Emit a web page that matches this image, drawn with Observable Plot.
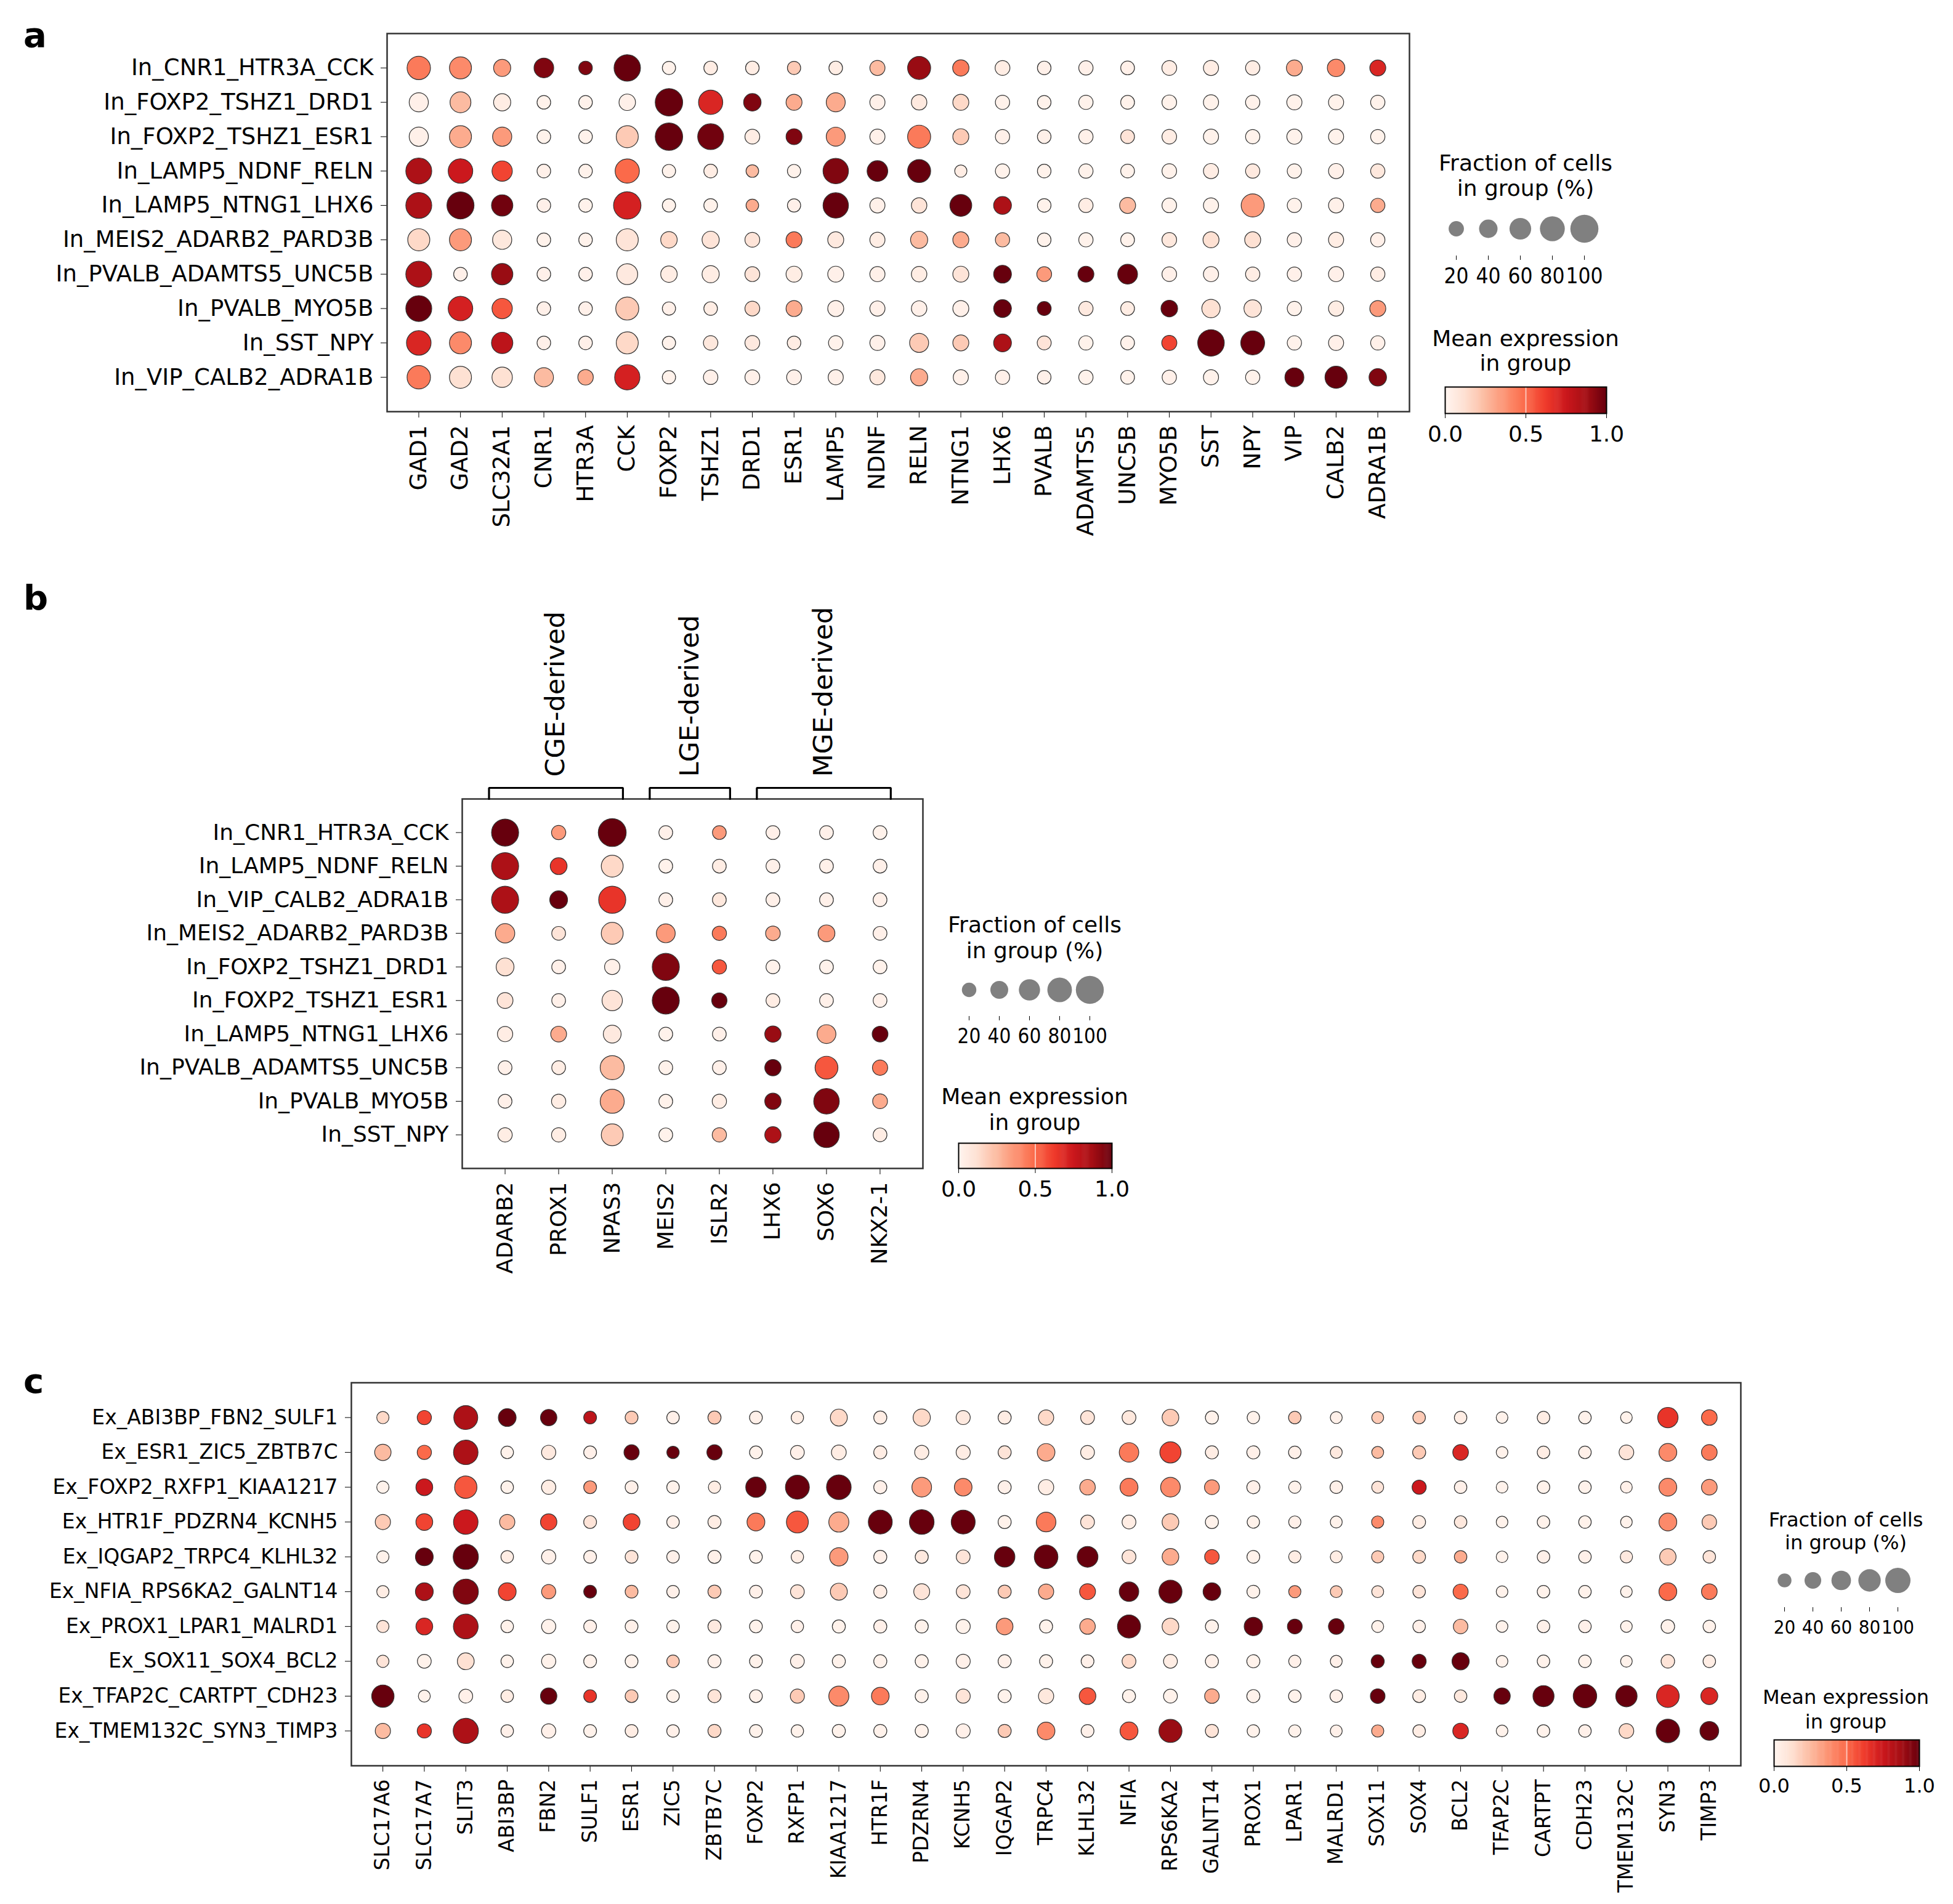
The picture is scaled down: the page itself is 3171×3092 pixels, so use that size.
<!DOCTYPE html>
<html>
<head>
<meta charset="utf-8">
<script src="https://cdn.jsdelivr.net/npm/d3@7"></script>
<script src="https://cdn.jsdelivr.net/npm/@observablehq/plot@0.6"></script>
<style>
  body { margin: 0; background: #fff; }
  #fig { position: relative; width: 3171px; height: 3092px; background: #fff; overflow: hidden;
         font-family: "DejaVu Sans", sans-serif; color: #000; }
  .abs { position: absolute; }
  .letter { font-weight: bold; font-size: 56px; line-height: 56px; }
  .ltitle { text-align: center; white-space: nowrap; }
  .abs svg { display: block; }
</style>
</head>
<body>
<div id="fig"></div>
<script>
// ---------- Panel a: inhibitory subtypes x marker genes ----------
const genesA = ["GAD1","GAD2","SLC32A1","CNR1","HTR3A","CCK","FOXP2","TSHZ1","DRD1","ESR1","LAMP5","NDNF",
  "RELN","NTNG1","LHX6","PVALB","ADAMTS5","UNC5B","MYO5B","SST","NPY","VIP","CALB2","ADRA1B"];
const groupsA = ["In_CNR1_HTR3A_CCK","In_FOXP2_TSHZ1_DRD1","In_FOXP2_TSHZ1_ESR1","In_LAMP5_NDNF_RELN",
  "In_LAMP5_NTNG1_LHX6","In_MEIS2_ADARB2_PARD3B","In_PVALB_ADAMTS5_UNC5B","In_PVALB_MYO5B","In_SST_NPY",
  "In_VIP_CALB2_ADRA1B"];
// fraction of cells expressing (%)
const fracA = [
  [73,65,36,51,15,91,13,15,15,13,15,24,71,31,22,15,19,16,22,24,19,29,38,29],
  [48,58,36,15,15,32,97,78,38,29,47,24,26,29,19,15,19,16,21,24,19,24,24,19],
  [48,65,48,15,15,65,97,88,22,29,47,24,71,29,19,15,19,16,21,24,19,24,24,19],
  [88,80,55,15,15,78,13,15, 9,13,85,57,71, 7,19,15,19,16,21,24,19,19,24,19],
  [88,95,61,15,15,97,13,15, 9,13,85,24,26,64,40,15,19,29,21,24,71,19,24,19],
  [65,65,48,15,15,65,32,36,22,29,29,24,36,29,19,15,19,16,21,29,29,19,24,19],
  [88,15,61,15,15,58,32,36,22,29,29,24,26,29,40,22,29,52,21,24,19,19,24,19],
  [88,80,55,15,15,71,13,15,22,29,29,24,26,29,40,17,19,16,33,43,38,19,24,29],
  [80,65,61,15,15,65,13,20,22,15,20,24,47,29,40,17,19,16,24,92,76,19,24,19],
  [73,65,55,48,26,84,13,20,22,22,24,24,36,24,19,15,19,16,19,24,19,47,66,38]
];
// scaled mean expression (0-1)
const exprA = [
  [.45,.40,.35,.95,.95,1.0,.02,.05,.05,.20,.05,.25,.90,.45,.05,.03,.03,.03,.05,.05,.05,.30,.40,.70],
  [.03,.25,.05,.02,.02,.03,1.0,.70,.95,.30,.30,.03,.07,.15,.02,.02,.02,.02,.02,.02,.02,.02,.02,.02],
  [.03,.30,.35,.02,.02,.20,1.0,.98,.05,.95,.35,.03,.45,.20,.03,.03,.03,.10,.05,.02,.02,.02,.02,.02],
  [.85,.75,.60,.03,.02,.50,.02,.05,.25,.02,.95,1.0,1.0,.05,.02,.02,.02,.02,.02,.05,.07,.02,.03,.08],
  [.85,1.0,.98,.03,.02,.72,.02,.02,.30,.03,1.0,.03,.10,1.0,.85,.02,.05,.25,.02,.02,.35,.02,.03,.30],
  [.15,.35,.08,.02,.02,.10,.15,.10,.10,.45,.07,.05,.25,.30,.25,.02,.02,.02,.08,.12,.12,.03,.05,.03],
  [.85,.03,.90,.03,.03,.07,.05,.05,.10,.05,.03,.03,.05,.10,1.0,.35,1.0,1.0,.03,.03,.05,.03,.03,.05],
  [1.0,.72,.55,.03,.03,.20,.03,.05,.15,.30,.03,.03,.03,.03,1.0,1.0,.07,.05,1.0,.12,.10,.02,.05,.35],
  [.70,.40,.80,.03,.03,.15,.02,.08,.07,.05,.02,.03,.20,.20,.85,.10,.02,.02,.60,1.0,1.0,.02,.03,.03],
  [.45,.12,.12,.25,.30,.72,.02,.03,.03,.03,.03,.08,.30,.03,.03,.03,.02,.02,.03,.02,.02,1.0,1.0,.95]
];

// ---------- Panel b: developmental origin markers ----------
const genesB = ["ADARB2","PROX1","NPAS3","MEIS2","ISLR2","LHX6","SOX6","NKX2-1"];
const groupsB = ["In_CNR1_HTR3A_CCK","In_LAMP5_NDNF_RELN","In_VIP_CALB2_ADRA1B","In_MEIS2_ADARB2_PARD3B",
  "In_FOXP2_TSHZ1_DRD1","In_FOXP2_TSHZ1_ESR1","In_LAMP5_NTNG1_LHX6","In_PVALB_ADAMTS5_UNC5B","In_PVALB_MYO5B",
  "In_SST_NPY"];
const originsB = [
  {name: "CGE-derived", first: "ADARB2", last: "NPAS3"},
  {name: "LGE-derived", first: "MEIS2", last: "ISLR2"},
  {name: "MGE-derived", first: "LHX6", last: "NKX2-1"}
];
const fracB = [
  [95,19,100,16,16,16,16,16],
  [95,34,64,16,16,16,16,16],
  [95,40,95,16,16,16,16,16],
  [49,16,64,46,19,21,34,16],
  [40,16,25,95,19,16,16,16],
  [28,16,55,95,25,16,16,16],
  [25,28,40,16,16,31,46,28],
  [16,16,77,16,16,31,70,25],
  [16,19,77,16,19,31,86,22],
  [19,19,64,16,19,31,86,16]
];
const exprB = [
  [1.0,.35,1.0,.03,.35,.03,.03,.02],
  [.85,.65,.15,.02,.05,.03,.03,.03],
  [.85,1.0,.65,.03,.08,.03,.03,.03],
  [.30,.10,.20,.35,.45,.30,.35,.03],
  [.12,.03,.03,.95,.55,.02,.02,.02],
  [.10,.03,.10,1.0,1.0,.05,.03,.03],
  [.05,.30,.07,.02,.03,.90,.30,1.0],
  [.03,.05,.25,.02,.03,1.0,.55,.45],
  [.03,.05,.30,.02,.05,.95,.95,.30],
  [.05,.05,.20,.02,.25,.85,1.0,.05]
];

// ---------- Panel c: excitatory subtypes x marker genes ----------
const genesC = ["SLC17A6","SLC17A7","SLIT3","ABI3BP","FBN2","SULF1","ESR1","ZIC5","ZBTB7C","FOXP2","RXFP1",
  "KIAA1217","HTR1F","PDZRN4","KCNH5","IQGAP2","TRPC4","KLHL32","NFIA","RPS6KA2","GALNT14","PROX1","LPAR1",
  "MALRD1","SOX11","SOX4","BCL2","TFAP2C","CARTPT","CDH23","TMEM132C","SYN3","TIMP3"];
const groupsC = ["Ex_ABI3BP_FBN2_SULF1","Ex_ESR1_ZIC5_ZBTB7C","Ex_FOXP2_RXFP1_KIAA1217","Ex_HTR1F_PDZRN4_KCNH5",
  "Ex_IQGAP2_TRPC4_KLHL32","Ex_NFIA_RPS6KA2_GALNT14","Ex_PROX1_LPAR1_MALRD1","Ex_SOX11_SOX4_BCL2",
  "Ex_TFAP2C_CARTPT_CDH23","Ex_TMEM132C_SYN3_TIMP3"];
const fracC = [
  [ 9,23, 91,48,38,13,13,11,15,13,10,42,15,44,22,15,30,20,20,40,15,10,11, 7, 7,11,11, 5,11,11, 5,66,33],
  [38,23, 95,11,23,13,30,10,30,13,20,27,15,22,22,15,47,20,60,72,15,15,11, 7, 7,15,33, 5,11,11,26,48,33],
  [ 9,41, 80,11,23,13,13,11, 9,66,91,96,15,61,47,15,30,32,49,61,27,15, 9,11, 7,22,11, 5,11,11, 5,48,33],
  [30,41, 95,30,38,13,41,11,15,48,77,64,91,96,91,15,61,20,20,40,15,10, 9, 7, 9,13,11, 5,11,11, 5,48,25],
  [ 9,48,100,11,23,13,13,11,15,13,10,52,15,15,20,67,89,69,20,40,25,13, 9, 7, 9,13,11, 5,11,11, 9,38,11],
  [ 9,48,100,48,23,13,13,11,15,13,20,42,15,35,20,15,30,35,60,85,47,13, 9, 7, 7,11,29, 5,11,11, 5,48,33],
  [ 9,41, 97,11,23,13,13,11,15,13,10,15,15,15,22,40,15,32,85,40,15,52,27,33, 7,11,25, 5,11,11, 5,18,11],
  [ 9,20, 41,11,23,13,13,11,15,13,20,15,15,15,22,15,15,13,20,20,15,15, 9, 7,15,22,44, 5,11,11, 5,18,11],
  [80, 7, 20,11,38,13,13,11,15,13,22,64,47,15,22,15,30,40,15,20,25,15,11,11,26,13,11,38,71,88,73,82,42],
  [30,23,100,11,23,13,13,11,15,13,10,15,15,15,22,15,47,13,49,85,15,10, 9, 7, 9,11,33, 5,11,11,26,88,55]
];
const exprC = [
  [.15,.60,.85,1.0,1.0,.80,.20,.03,.20,.03,.05,.15,.05,.15,.07,.05,.15,.10,.08,.20,.02,.02,.20,.03,.20,.20,.05,.02,.05,.02,.02,.65,.50],
  [.25,.50,.85,.02,.07,.03,1.0,1.0,1.0,.02,.03,.05,.05,.05,.05,.10,.30,.05,.45,.60,.05,.03,.03,.07,.25,.20,.70,.02,.05,.03,.10,.40,.45],
  [.02,.75,.55,.02,.05,.35,.03,.02,.05,1.0,1.0,1.0,.03,.35,.40,.03,.05,.30,.45,.40,.35,.03,.02,.03,.10,.75,.03,.02,.02,.02,.03,.40,.35],
  [.20,.60,.75,.25,.60,.10,.60,.03,.05,.45,.55,.30,1.0,1.0,1.0,.02,.45,.10,.05,.20,.02,.02,.03,.02,.40,.05,.08,.02,.02,.02,.02,.40,.20],
  [.02,1.0,1.0,.05,.03,.03,.10,.03,.03,.02,.05,.35,.03,.07,.10,1.0,1.0,1.0,.10,.30,.55,.02,.05,.05,.20,.15,.30,.02,.03,.03,.07,.20,.10],
  [.05,.85,.95,.60,.35,1.0,.25,.03,.20,.03,.10,.20,.05,.10,.10,.20,.30,.55,1.0,1.0,1.0,.02,.35,.20,.10,.10,.50,.02,.02,.02,.02,.50,.45],
  [.10,.70,.85,.02,.02,.03,.03,.02,.07,.02,.03,.02,.03,.02,.02,.35,.02,.30,1.0,.15,.02,1.0,1.0,1.0,.02,.03,.25,.02,.03,.03,.02,.02,.02],
  [.10,.02,.12,.02,.02,.02,.02,.20,.03,.02,.03,.02,.02,.02,.03,.03,.02,.03,.15,.05,.03,.02,.03,.03,1.0,1.0,1.0,.02,.02,.02,.02,.10,.05],
  [1.0,.02,.03,.05,1.0,.65,.20,.02,.10,.03,.20,.40,.45,.02,.10,.02,.08,.55,.02,.02,.30,.02,.02,.03,1.0,.05,.08,1.0,1.0,1.0,1.0,.70,.70],
  [.25,.65,.85,.03,.03,.02,.05,.03,.15,.02,.02,.02,.02,.02,.03,.20,.40,.03,.55,.90,.10,.02,.02,.03,.30,.05,.70,.02,.02,.03,.15,1.0,1.0]
];

// legend tick values
const fracTicks = [20, 40, 60, 80, 100];
const exprTicks = [0, 0.5, 1];

// ---------- shared styling ----------
const redsStops = ["#fff5f0","#fee0d2","#fcbba1","#fc9272","#fb6a4a","#ef3b2c","#cb181d","#a50f15","#67000d"];
const colorScale = {type: "linear", domain: [0, 1], interpolate: d3.piecewise(d3.interpolateRgb, redsStops)};
const fig = document.getElementById("fig");

function place(node, left, top) {
  const wrap = document.createElement("div");
  wrap.className = "abs";
  wrap.style.left = left + "px";
  wrap.style.top = top + "px";
  wrap.appendChild(node);
  fig.appendChild(wrap);
  return wrap;
}

function htmlText(html, left, top, cls, css) {
  const d = document.createElement("div");
  d.className = "abs " + cls;
  d.innerHTML = html;
  d.style.left = left + "px";
  d.style.top = top + "px";
  Object.assign(d.style, css || {});
  fig.appendChild(d);
}

function baseStyle(fs, family = "DejaVu Sans") {
  return {fontFamily: family, fontSize: fs + "px", background: "transparent", color: "#000", overflow: "visible"};
}

// dot plot: one row per cell group, one column per gene
function dotPanel({rows, genes, frac, expr, width, height, margins, pad, fontSize, rRange}) {
  const cells = [];
  rows.forEach((_, i) => genes.forEach((_, j) => cells.push({row: i, gene: j, frac: frac[i][j], expr: expr[i][j]})));
  return Plot.plot({
    width, height, ...margins,
    style: baseStyle(fontSize),
    x: {domain: [-pad, genes.length - 1 + pad], ticks: d3.range(genes.length), tickFormat: j => genes[j],
        tickRotate: -90, tickSize: 10, tickPadding: 12, label: null},
    y: {domain: [-1, rows.length], reverse: true, ticks: d3.range(rows.length), tickFormat: i => rows[i],
        tickSize: 10, tickPadding: 12, label: null},
    r: {type: "linear", domain: [0, 100], range: rRange},
    color: colorScale,
    marks: [
      Plot.frame({stroke: "#333", strokeWidth: 2.5}),
      Plot.dot(cells, {x: "gene", y: "row", r: "frac", fill: "expr", stroke: "#333", strokeWidth: 1.2})
    ]
  });
}

// dot-size legend (narrow digits so the closely spaced labels stay apart)
function sizeLegend({x0, x1, cy, tickTop, rRange, fontSize}) {
  const left = x0 - 60, top = cy - 40;
  const chart = Plot.plot({
    width: x1 - x0 + 120, height: tickTop - top + 70,
    marginLeft: 60, marginRight: 60, marginTop: 0, marginBottom: 70,
    style: baseStyle(fontSize, "'DejaVu Sans Condensed', 'DejaVu Sans'"),
    x: {type: "point", domain: fracTicks, padding: 0, tickSize: 7, tickPadding: 13, label: null},
    r: {type: "linear", domain: [0, 100], range: rRange},
    marks: [
      Plot.dot(fracTicks, {x: d => d, r: d => d, fill: "#808080", frameAnchor: "top", dy: 40})
    ]
  });
  place(chart, left, top);
}

// colour bar legend
function colorLegend({x0, x1, y0, y1, fontSize}) {
  const n = 256;
  const ramp = d3.range(n).map(i => i / n);
  const chart = Plot.plot({
    width: x1 - x0 + 80, height: y1 - y0 + 60,
    marginLeft: 40, marginRight: 40, marginTop: 0, marginBottom: 60,
    style: baseStyle(fontSize),
    x: {domain: [0, 1], ticks: exprTicks, tickFormat: d3.format(".1f"), tickSize: 8, tickPadding: 12, label: null},
    color: colorScale,
    marks: [
      Plot.barX(ramp, {x1: d => d, x2: d => Math.min(1, d + 1.6 / n), fill: d => d + 0.5 / n}),
      Plot.ruleX([0.5], {stroke: "white", strokeOpacity: 0.6, strokeWidth: 2}),
      Plot.frame({stroke: "#000", strokeWidth: 2})
    ]
  });
  place(chart, x0 - 40, y0);
}

function legendTitles({cx, fs, top1, lh1, top2, lh2}) {
  const css1 = {width: "500px", left: (cx - 250) + "px", fontSize: fs + "px", lineHeight: lh1 + "px"};
  htmlText("Fraction of cells<br>in group (%)", cx - 250, top1, "ltitle", css1);
  const css2 = {width: "500px", left: (cx - 250) + "px", fontSize: fs + "px", lineHeight: lh2 + "px"};
  htmlText("Mean expression<br>in group", cx - 250, top2, "ltitle", css2);
}

// ---------- panel a ----------
const rAB = [9, 22.7];
place(dotPanel({rows: groupsA, genes: genesA, frac: fracA, expr: exprA,
  width: 2300, height: 898, margins: {marginLeft: 628, marginRight: 12, marginTop: 54, marginBottom: 230},
  pad: 0.76, fontSize: 37, rRange: rAB}), 0, 0);
legendTitles({cx: 2477, fs: 36, top1: 244, lh1: 41, top2: 530, lh2: 40});
sizeLegend({x0: 2364, x1: 2572, cy: 371, tickTop: 415, rRange: [9.8, 22.8], fontSize: 35});
colorLegend({x0: 2346, x1: 2608, y0: 628, y1: 671, fontSize: 36});

// ---------- panel b ----------
const padB = 0.8;
place(dotPanel({rows: groupsB, genes: genesB, frac: fracB, expr: exprB,
  width: 1510, height: 847, margins: {marginLeft: 750, marginRight: 12, marginTop: 47, marginBottom: 200},
  pad: padB, fontSize: 36, rRange: rAB}), 0, 1250);

// origin brackets above the panel b columns
const spans = originsB.map(o => {
  const a = genesB.indexOf(o.first) - 0.3, b = genesB.indexOf(o.last) + 0.2;
  return {name: o.name, a, b, mid: (a + b) / 2};
});
const bracketPts = spans.flatMap(s => [
  {g: s.name, x: s.a, y: 0}, {g: s.name, x: s.a, y: 1}, {g: s.name, x: s.b, y: 1}, {g: s.name, x: s.b, y: 0}
]);
place(Plot.plot({
  width: 1510, height: 337, marginLeft: 750, marginRight: 12, marginTop: 319, marginBottom: 0,
  style: baseStyle(43),
  x: {domain: [-padB, genesB.length - 1 + padB], axis: null},
  y: {domain: [0, 1], axis: null},
  marks: [
    Plot.line(bracketPts, {x: "x", y: "y", z: "g", stroke: "#000", strokeWidth: 3.2, strokeLinejoin: "miter"}),
    Plot.text(spans, {x: "mid", y: 1, text: "name", rotate: -90, textAnchor: "start", dy: -18, fontSize: 43})
  ]
}), 0, 960);
legendTitles({cx: 1680, fs: 36, top1: 1481, lh1: 42, top2: 1760, lh2: 42});
sizeLegend({x0: 1572, x1: 1770, cy: 1607, tickTop: 1650, rRange: rAB, fontSize: 33});
colorLegend({x0: 1556, x1: 1805, y0: 1856, y1: 1897, fontSize: 36});

// ---------- panel c ----------
const rC = [8.9, 20.5];
place(dotPanel({rows: groupsC, genes: genesC, frac: fracC, expr: exprC,
  width: 2840, height: 867, margins: {marginLeft: 570, marginRight: 14, marginTop: 45, marginBottom: 200},
  pad: 0.76, fontSize: 33, rRange: rC}), 0, 2200);
legendTitles({cx: 2997, fs: 32, top1: 2450, lh1: 37, top2: 2736, lh2: 40});
sizeLegend({x0: 2896, x1: 3082, cy: 2566, tickTop: 2610, rRange: rC, fontSize: 31});
colorLegend({x0: 2880, x1: 3116, y0: 2825, y1: 2868, fontSize: 32});

// ---------- panel letters ----------
htmlText("a", 38, 29, "letter");
htmlText("b", 38, 943, "letter");
htmlText("c", 38, 2215, "letter");
</script>
</body>
</html>
